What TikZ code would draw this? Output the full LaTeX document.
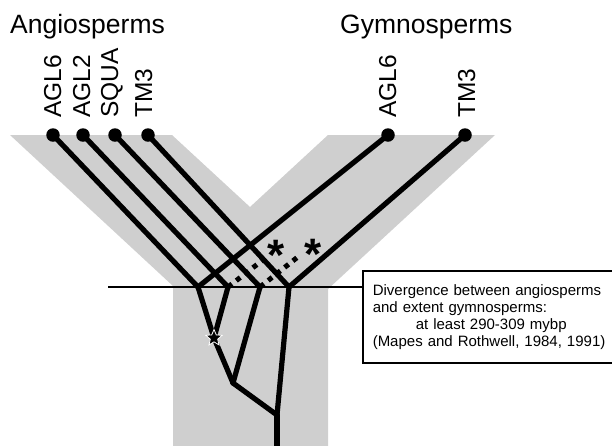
\documentclass[tikz,border=0pt]{standalone}
\usepackage{fontspec}
\setmainfont{Liberation Sans}
\usetikzlibrary{shapes.geometric}
\definecolor{bandgray}{RGB}{207,207,207}
\begin{document}
\begin{tikzpicture}[x=1pt,y=-1pt,
  branch/.style={line width=5.2pt, line cap=round, line join=round},
  lost/.style={line width=5pt, dash pattern=on 5pt off 5.5pt},
  tip/.style={circle, fill=black, inner sep=0pt, minimum size=13.5pt},
  taxon/.style={font=\fontsize{26.5}{30}\selectfont, inner sep=0pt, anchor=base west},
  gene/.style={font=\fontsize{24.5}{28}\selectfont, inner sep=0pt, anchor=base west, rotate=90},
  ast/.style={font=\fontsize{44}{44}\selectfont\bfseries, inner sep=0pt, anchor=base},
  starmark/.style={star, star points=5, star point ratio=2.2, fill=black, draw=white, line width=0.8pt, inner sep=0pt, minimum size=17pt}
]
\useasboundingbox (0,0) rectangle (612,445);
% gray Y band
\fill[bandgray] (10,135) -- (172,135) -- (250,207) -- (328,135) -- (495,135)
  -- (328,289) -- (328,446) -- (173,446) -- (173,286) -- cycle;

% titles
\node[taxon] (angio) at (10,33) {Angiosperms};
\node[taxon] (gymno) at (340,33) {Gymnosperms};

% gene labels
\node[gene] (la1) at (61,118) {AGL6};
\node[gene] (la2) at (90,118) {AGL2};
\node[gene] (la3) at (118,118) {SQUA};
\node[gene] (la4) at (152,118) {TM3};
\node[gene] (lg1) at (396,118) {AGL6};
\node[gene] (lg2) at (475,118) {TM3};

% box
\node[draw, line width=1.5pt, anchor=north west, minimum width=262pt, minimum height=92pt,
  inner xsep=10pt, inner ysep=0pt, text width=242pt, align=left,
  font=\fontsize{15}{17}\selectfont] (box) at (362,270)
  {Divergence between angiosperms\\ and extent gymnosperms:\\ \hspace*{43pt}at least 290-309 mybp\\ (Mapes and Rothwell, 1984, 1991)};

% horizontal time line
\coordinate (hl) at (108,287);
\draw[line width=1.2pt] (hl) -- (hl -| box.west);

% tips
\node[tip] (a1) at (53,135) {};
\node[tip] (a2) at (83,135) {};
\node[tip] (a3) at (115,135) {};
\node[tip] (a4) at (148,135) {};
\node[tip] (g1) at (388,135) {};
\node[tip] (g2) at (465,135) {};

% internal points
\coordinate (j1) at (198,287);
\coordinate (j2) at (228,287);
\coordinate (j3) at (260,287);
\coordinate (j4) at (289,287);
\coordinate (d1) at (268,256);
\coordinate (d2) at (299,256);
\coordinate (sp) at (214,338);
\coordinate (k1) at (233,383);
\coordinate (k2) at (277,415);
\coordinate (root) at (277,450);

% lost-gene dotted lines
\draw[lost] (j2) -- (d1);
\draw[lost] (j3) -- (d2);

% branches
\draw[branch] (a1.center) -- (j1);
\draw[branch] (a2.center) -- (j2);
\draw[branch] (a3.center) -- (j3);
\draw[branch] (a4.center) -- (j4);
\draw[branch] (g1.center) -- (j1);
\draw[branch] (g2.center) -- (j4);
\draw[branch] (j1) -- (sp);
\draw[branch] (j2) -- (sp);
\draw[branch] (sp) -- (k1);
\draw[branch] (j3) -- (k1);
\draw[branch] (k1) -- (k2);
\draw[branch] (j4) -- (k2);
\draw[branch] (k2) -- (root);

% star
\node[starmark] (s) at (sp) {};

% asterisks
\node[ast] (ast1) at (276,270) {*};
\node[ast] (ast2) at (313,269) {*};
\end{tikzpicture}
\end{document}
